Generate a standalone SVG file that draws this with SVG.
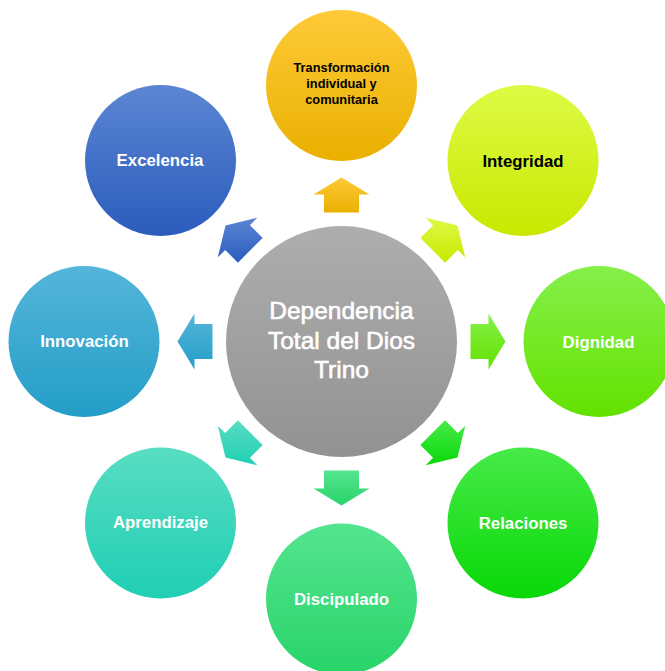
<svg xmlns="http://www.w3.org/2000/svg" width="665" height="671" viewBox="0 0 665 671">
<defs>
<linearGradient id="gGray" x1="0" y1="0" x2="0" y2="1"><stop offset="0" stop-color="#AEAEAE"/><stop offset="1" stop-color="#929292"/></linearGradient>
<linearGradient id="gGold" x1="0" y1="0" x2="0" y2="1"><stop offset="0" stop-color="#FFCA38"/><stop offset="1" stop-color="#E9B000"/></linearGradient>
<linearGradient id="gLime" x1="0" y1="0" x2="0" y2="1"><stop offset="0" stop-color="#DEFA45"/><stop offset="1" stop-color="#C9E800"/></linearGradient>
<linearGradient id="gLgreen" x1="0" y1="0" x2="0" y2="1"><stop offset="0" stop-color="#86F04A"/><stop offset="1" stop-color="#62E200"/></linearGradient>
<linearGradient id="gGreen" x1="0" y1="0" x2="0" y2="1"><stop offset="0" stop-color="#48EA48"/><stop offset="1" stop-color="#08D808"/></linearGradient>
<linearGradient id="gMint" x1="0" y1="0" x2="0" y2="1"><stop offset="0" stop-color="#55E490"/><stop offset="1" stop-color="#28D468"/></linearGradient>
<linearGradient id="gTeal" x1="0" y1="0" x2="0" y2="1"><stop offset="0" stop-color="#58DDC2"/><stop offset="1" stop-color="#20CFB4"/></linearGradient>
<linearGradient id="gCyan" x1="0" y1="0" x2="0" y2="1"><stop offset="0" stop-color="#55B5DA"/><stop offset="1" stop-color="#239EC8"/></linearGradient>
<linearGradient id="gBlue" x1="0" y1="0" x2="0" y2="1"><stop offset="0" stop-color="#5C86D3"/><stop offset="1" stop-color="#2B5CBD"/></linearGradient>
</defs>
<style>
.lbl{font-family:"Liberation Sans",Arial,sans-serif;font-weight:bold;font-size:16.8px;text-anchor:middle;fill:#FFFFFF}
.dark{fill:#000000}
.top{font-family:"Liberation Sans",Arial,sans-serif;font-weight:bold;font-size:12.8px;text-anchor:middle;fill:#000000}
.ctr{font-family:"Liberation Sans",Arial,sans-serif;font-size:24.5px;text-anchor:middle;fill:#FFFFFF;stroke:#FFFFFF;stroke-width:0.6px}
</style>
<rect width="665" height="671" fill="#FFFFFF"/>
<g id="connectors">
<polygon fill="url(#gGold)" points="341.5,177.5 369.5,194.5 359,194.5 359,212.5 324,212.5 324,194.5 313.5,194.5"/>
<polygon fill="url(#gLime)" points="457.47,225.53 465.24,257.36 457.81,249.93 445.09,262.65 420.35,237.91 433.07,225.19 425.64,217.76"/>
<polygon fill="url(#gLgreen)" points="505.5,341.5 488.5,369.5 488.5,359 470.5,359 470.5,324 488.5,324 488.5,313.5"/>
<polygon fill="url(#gGreen)" points="457.47,457.47 465.24,425.64 457.81,433.07 445.09,420.35 420.35,445.09 433.07,457.81 425.64,465.24"/>
<polygon fill="url(#gMint)" points="341.5,505.5 369.5,488.5 359,488.5 359,470.5 324,470.5 324,488.5 313.5,488.5"/>
<polygon fill="url(#gTeal)" points="225.53,457.47 217.76,425.64 225.19,433.07 237.91,420.35 262.65,445.09 249.93,457.81 257.36,465.24"/>
<polygon fill="url(#gCyan)" points="177.5,341.5 194.5,369.5 194.5,359 212.5,359 212.5,324 194.5,324 194.5,313.5"/>
<polygon fill="url(#gBlue)" points="225.53,225.53 217.76,257.36 225.19,249.93 237.91,262.65 262.65,237.91 249.93,225.19 257.36,217.76"/>
</g>
<g id="center">
<circle cx="341.5" cy="341.5" r="115.5" fill="url(#gGray)"/>
<text class="ctr" x="341.5" y="319">Dependencia</text>
<text class="ctr" x="341.5" y="348.5">Total del Dios</text>
<text class="ctr" x="341.5" y="378">Trino</text>
</g>
<g id="transformacion">
<circle cx="341.5" cy="85.5" r="75.5" fill="url(#gGold)"/>
<text class="top" x="341.5" y="72">Transformación</text>
<text class="top" x="341.5" y="88">individual y</text>
<text class="top" x="341.5" y="104">comunitaria</text>
</g>
<g id="integridad">
<circle cx="523" cy="160.5" r="75.5" fill="url(#gLime)"/>
<text class="lbl dark" x="523" y="166.5">Integridad</text>
</g>
<g id="dignidad">
<circle cx="599" cy="341.5" r="75.5" fill="url(#gLgreen)"/>
<text class="lbl" x="598.5" y="347.5">Dignidad</text>
</g>
<g id="relaciones">
<circle cx="523" cy="523" r="75.5" fill="url(#gGreen)"/>
<text class="lbl" x="523" y="529">Relaciones</text>
</g>
<g id="discipulado">
<circle cx="341.5" cy="599" r="75.5" fill="url(#gMint)"/>
<text class="lbl" x="341.5" y="604.5">Discipulado</text>
</g>
<g id="aprendizaje">
<circle cx="160.5" cy="523" r="75.5" fill="url(#gTeal)"/>
<text class="lbl" x="160.5" y="528">Aprendizaje</text>
</g>
<g id="innovacion">
<circle cx="84" cy="341.5" r="75.5" fill="url(#gCyan)"/>
<text class="lbl" x="84.5" y="347">Innovación</text>
</g>
<g id="excelencia">
<circle cx="160.5" cy="160.5" r="75.5" fill="url(#gBlue)"/>
<text class="lbl" x="160" y="166">Excelencia</text>
</g>
</svg>
